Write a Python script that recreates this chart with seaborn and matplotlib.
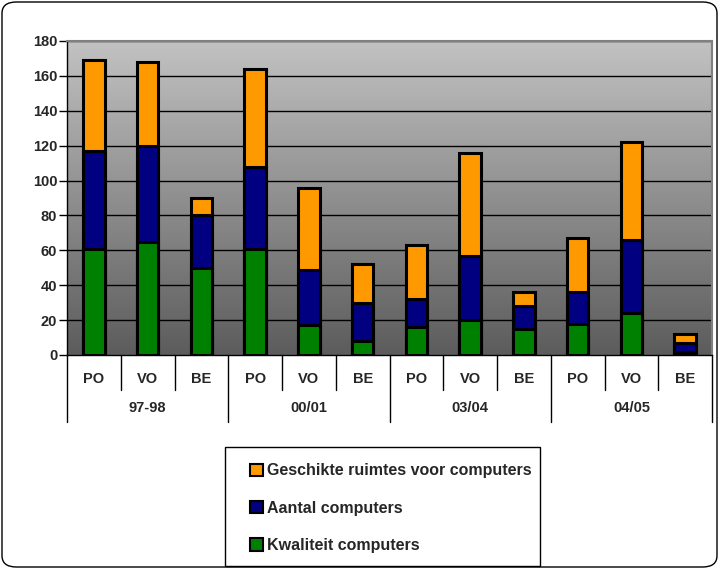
import numpy as np
import pandas as pd
import matplotlib
matplotlib.use('Agg')
import matplotlib.pyplot as plt
import matplotlib.transforms as mtransforms
from matplotlib.patches import FancyBboxPatch, Rectangle
from matplotlib.colors import LinearSegmentedColormap
import seaborn as sns

# data
jaren = ['97-98', '00/01', '03/04', '04/05']
typen = ['PO', 'VO', 'BE']
kwaliteit = [61, 65, 50, 61, 17, 8, 16, 20, 15, 18, 24, 1.5]
aantal = [56, 55, 30, 47, 32, 22, 16, 37, 13, 18, 42, 5.5]
ruimtes = [52, 48, 10, 56, 47, 22, 31, 59, 8, 31, 56, 5]
series_labels = ['Kwaliteit computers', 'Aantal computers', 'Geschikte ruimtes voor computers']
kleuren = ['#008000', '#000080', '#FF9900']

sns.set_style('white')
plt.rcParams['font.family'] = ['Liberation Sans', 'DejaVu Sans']
plt.rcParams['font.weight'] = 'bold'

keys = [f'{j} {t}' for j in jaren for t in typen]
df = pd.DataFrame({'key': keys, 'kwaliteit': kwaliteit, 'aantal': aantal, 'ruimtes': ruimtes})
df['k'] = df['kwaliteit']
df['ka'] = df['kwaliteit'] + df['aantal']
df['kar'] = df['ka'] + df['ruimtes']

W, H = 720, 569
fs = 10.5
fig = plt.figure(figsize=(7.2, 5.69), dpi=100)
x0, x1, y0, y1 = 67, 712, 41, 355
ax = fig.add_axes([x0 / W, 1 - y1 / H, (x1 - x0) / W, (y1 - y0) / H])

# verloop achtergrond
cmap = LinearSegmentedColormap.from_list('grad', ['#5c5c5c', '#c2c2c2'])
ax.imshow(np.linspace(0, 1, 256)[:, None], cmap=cmap, origin='lower',
          extent=(-0.5, 11.5, 0, 180), aspect='auto', zorder=0)

for yv in range(20, 181, 20):
    ax.axhline(yv, color='black', lw=1, zorder=1)

# gestapelde staven: cumulatieve totalen van achter naar voren
for col, kleur in zip(['kar', 'ka', 'k'], kleuren[::-1]):
    sns.barplot(data=df, x='key', y=col, order=keys, color=kleur, saturation=1,
                width=0.4, edgecolor='black', linewidth=2.2, ax=ax, zorder=3)

ax.set_xlim(-0.5, 11.5)
ax.set_ylim(0, 180)
ax.set_yticks(range(0, 181, 20))
ax.set_yticklabels([str(v) for v in range(0, 181, 20)], fontsize=fs, fontweight='bold')
ax.tick_params(axis='y', length=6, width=1, color='black', pad=1, left=True)
ax.set_xticks([])
ax.set_xlabel('')
ax.set_ylabel('')
for s in ['top', 'right']:
    ax.spines[s].set_color('#808080')
    ax.spines[s].set_linewidth(1.5)
for s in ['left', 'bottom']:
    ax.spines[s].set_color('black')
    ax.spines[s].set_linewidth(1)

# categorie-labels op twee niveaus
trans = mtransforms.blended_transform_factory(ax.transData, ax.transAxes)
h = y1 - y0
for i, key in enumerate(keys):
    ax.text(i, -(379 - y1) / h, typen[i % 3], transform=trans, ha='center', va='center',
            fontsize=fs, fontweight='bold')
for g, jaar in enumerate(jaren):
    ax.text(g * 3 + 1, -(408 - y1) / h, jaar, transform=trans, ha='center', va='center',
            fontsize=fs, fontweight='bold')
for i in range(13):
    xs = i - 0.5
    bottom = -(422 - y1) / h if i % 3 == 0 else -(390 - y1) / h
    ax.plot([xs, xs], [0, bottom], transform=trans, color='black', lw=1, clip_on=False)

# legenda
fig.patches.append(Rectangle((225 / W, 1 - 566 / H), 315 / W, 119 / H, transform=fig.transFigure,
                             facecolor='white', edgecolor='black', lw=1))
handles = [Rectangle((0, 0), 1, 1, facecolor=c, edgecolor='black', lw=1.5) for c in kleuren[::-1]]
fig.legend(handles, series_labels[::-1], loc='upper left', bbox_to_anchor=(236 / W, 1 - 449 / H),
           frameon=False, handlelength=0.8, handleheight=0.8, handletextpad=0.25,
           labelspacing=1.4, prop={'weight': 'bold', 'size': 11.5})

# buitenrand
fig.patches.append(FancyBboxPatch((2 / W, 2 / H), 715 / W, 565 / H, boxstyle='round,pad=0,rounding_size=0.02',
                                  transform=fig.transFigure, facecolor='none', edgecolor='black', lw=1))

fig.savefig('out.png', dpi=100)
